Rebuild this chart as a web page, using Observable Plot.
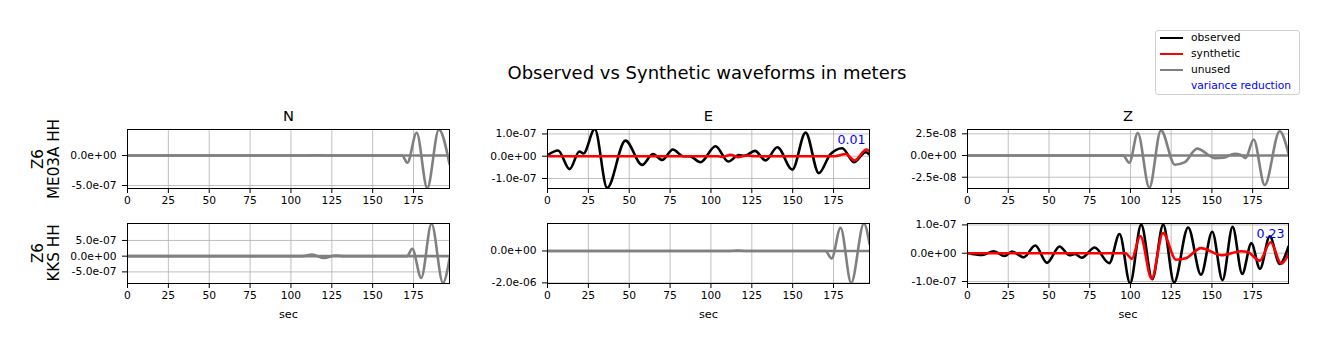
<!DOCTYPE html>
<html><head><meta charset="utf-8">
<script src="https://cdn.jsdelivr.net/npm/d3@7"></script>
<script src="https://cdn.jsdelivr.net/npm/@observablehq/plot@0.6"></script>
<style>
body{margin:0;background:#fff;}
#root{position:relative;width:1329px;height:351px;font-family:"DejaVu Sans",sans-serif;overflow:hidden;background:#fff;}
.abs{position:absolute;white-space:pre;}
</style></head><body><div id="root"></div>
<script>
// ---------- data ----------
const chartTitle = "Observed vs Synthetic waveforms in meters";
const componentNames = ["N", "E", "Z"];
const stationLabels = ["Z6\nME03A HH", "Z6\nKKS HH"];
const xLabel = "sec";
const xTicks = [0, 25, 50, 75, 100, 125, 150, 175];
const xDomain = [0, 197];

// ME03A
const obs_ME03A_N = [[0,0],[110,0],[115.5,0.05e-7],[121,0],[168,0],[171.2,-1.2e-7],[176.9,3.8e-7],[183.4,-5.45e-7],[190.5,4.33e-7],[197,-1.4e-7]];
const syn_ME03A_N = [[0,0],[197,0]];
const obs_ME03A_E = [[0,0.05e-7],[6.5,0.26e-7],[13.5,-0.58e-7],[19.5,0.21e-7],[22,0.12e-7],[28.9,1.22e-7],[36.5,-1.42e-7],[47.7,0.7e-7],[57.9,-0.39e-7],[64.5,0.1e-7],[70.2,-0.17e-7],[76.7,0.3e-7],[83,0],[87,0],[93.6,-0.27e-7],[102.8,0.45e-7],[110.6,-0.24e-7],[117,0.05e-7],[120.5,0.02e-7],[126.9,0.24e-7],[133.4,-0.19e-7],[140.6,0.4e-7],[149.8,-0.6e-7],[157.9,1.06e-7],[166,-0.76e-7],[173,0.08e-7],[180.3,0.36e-7],[187.5,-0.27e-7],[194.6,0.18e-7],[197,0.08e-7]];
const syn_ME03A_E = [[0,0],[104,0],[107,-0.03e-7],[112,0.06e-7],[117,-0.04e-7],[122,0.03e-7],[127,0],[176,0],[182.5,0.1e-7],[187.8,-0.19e-7],[195.2,0.3e-7],[197,0.22e-7]];
const obs_ME03A_Z = [[0,0],[95.5,0],[99.3,-0.84e-8],[104.5,2.6e-8],[111.6,-3.7e-8],[118.7,2.9e-8],[127.3,-1.07e-8],[133.4,-0.77e-8],[140.9,0.8e-8],[151.8,-0.3e-8],[157,-0.25e-8],[164,0.2e-8],[167.5,0.1e-8],[170.6,-0.3e-8],[175.6,1.85e-8],[182.4,-3.4e-8],[191.6,2.8e-8],[197,0.2e-8]];
const syn_ME03A_Z = [[0,0],[197,0]];

// KKS
const obs_KKS_N = [[0,0],[107,0],[113,0.5e-7],[120.2,-0.6e-7],[127.3,0.2e-7],[133,0],[171,0],[174.2,2.35e-7],[179.7,-6.9e-7],[186,1.03e-6],[193,-8.5e-7],[197,-0.8e-7]];
const syn_KKS_N = [[0,0],[197,0]];
const obs_KKS_E = [[0,0],[112,0],[116.5,0.02e-6],[121,0],[170,0],[173.8,-0.47e-6],[179.3,1.45e-6],[185.8,-2.0e-6],[193.6,1.72e-6],[197,0.44e-6]];
const syn_KKS_E = [[0,0],[197,0]];
const obs_KKS_Z = [[0,0.01e-7],[9,-0.06e-7],[16.1,0.07e-7],[22.8,-0.1e-7],[27.3,0.06e-7],[34.5,-0.14e-7],[41.6,0.27e-7],[48.8,-0.34e-7],[56.5,0.24e-7],[62.5,-0.07e-7],[66,-0.03e-7],[70.2,-0.16e-7],[78,0.2e-7],[87,-0.35e-7],[93.3,0.68e-7],[99.8,-1.06e-7],[106.6,1.01e-7],[113.4,-0.92e-7],[120.1,1.01e-7],[126.8,-1.03e-7],[135.4,0.91e-7],[143.3,-0.76e-7],[150.2,0.76e-7],[156.5,-0.95e-7],[162.7,0.93e-7],[168.6,-0.73e-7],[174.2,0.35e-7],[179.5,-0.55e-7],[185.5,0.6e-7],[191.6,-0.38e-7],[197,0.24e-7]];
const syn_KKS_Z = [[0,0],[97,0],[100.8,-0.2e-7],[106.1,0.61e-7],[113,-0.9e-7],[120,0.71e-7],[128,-0.23e-7],[134,-0.18e-7],[143.3,0.18e-7],[155.9,-0.07e-7],[168.1,0.07e-7],[172,0.04e-7],[179.3,-0.26e-7],[186,0.39e-7],[192.6,-0.37e-7],[197,-0.03e-7]];

// y ranges and ticks
const yDom_ME03A_N = [-5.5e-7, 4.35e-7], yTicks_ME03A_N = [-5e-7, 0];
const yDom_ME03A_E = [-1.45e-7, 1.2e-7], yTicks_ME03A_E = [-1e-7, 0, 1e-7];
const yDom_ME03A_Z = [-3.8e-8, 3.0e-8], yTicks_ME03A_Z = [-2.5e-8, 0, 2.5e-8];
const yDom_KKS_N = [-8.7e-7, 1.04e-6], yTicks_KKS_N = [-5e-7, 0, 5e-7];
const yDom_KKS_E = [-2.04e-6, 1.72e-6], yTicks_KKS_E = [-2e-6, 0];
const yDom_KKS_Z = [-1.07e-7, 1.05e-7], yTicks_KKS_Z = [-1e-7, 0, 1e-7];

// variance reduction (null = component unused)
const vr_ME03A = [null, "0.01", null];
const vr_KKS = [null, null, "0.23"];

const legendItems = [
  {label: "observed", color: "black", line: true},
  {label: "synthetic", color: "red", line: true},
  {label: "unused", color: "gray", line: true},
  {label: "variance reduction", color: "blue", line: false}
];

// ---------- layout ----------
const colLeft = [127, 547, 967], colWidth = [322, 322, 321];
const rowTop = [129, 223], rowHeight = [59, 60];
const mL = 80, mR = 10, mT = 30, mB = 45;

const root = document.getElementById("root");

function fmt(d) {
  const [m, e] = d.toExponential(1).split("e");
  const n = +e;
  return m + "e" + (n < 0 ? "-" : "+") + String(Math.abs(n)).padStart(2, "0");
}

const panels = [
  {row:0, col:0, obs:obs_ME03A_N, syn:syn_ME03A_N, dom:yDom_ME03A_N, ticks:yTicks_ME03A_N, vr:vr_ME03A[0]},
  {row:0, col:1, obs:obs_ME03A_E, syn:syn_ME03A_E, dom:yDom_ME03A_E, ticks:yTicks_ME03A_E, vr:vr_ME03A[1]},
  {row:0, col:2, obs:obs_ME03A_Z, syn:syn_ME03A_Z, dom:yDom_ME03A_Z, ticks:yTicks_ME03A_Z, vr:vr_ME03A[2]},
  {row:1, col:0, obs:obs_KKS_N, syn:syn_KKS_N, dom:yDom_KKS_N, ticks:yTicks_KKS_N, vr:vr_KKS[0]},
  {row:1, col:1, obs:obs_KKS_E, syn:syn_KKS_E, dom:yDom_KKS_E, ticks:yTicks_KKS_E, vr:vr_KKS[1]},
  {row:1, col:2, obs:obs_KKS_Z, syn:syn_KKS_Z, dom:yDom_KKS_Z, ticks:yTicks_KKS_Z, vr:vr_KKS[2]}
];

const gridStyle = {stroke: "#b0b0b0", strokeOpacity: 1, strokeWidth: 0.8};

for (const p of panels) {
  const used = p.vr !== null;
  const w = colWidth[p.col], h = rowHeight[p.row];
  const marks = [
    Plot.gridX(xTicks, gridStyle),
    Plot.gridY(p.ticks, gridStyle),
    Plot.axisX(xTicks, {tickSize: 5, tickPadding: 3, label: null, stroke: "black"}),
    Plot.axisY(p.ticks, {tickSize: 5, tickPadding: 6, tickFormat: fmt, label: null, stroke: "black"}),
    Plot.line(p.obs, {x: d => d[0], y: d => d[1], stroke: used ? "black" : "gray", strokeWidth: 2.6, curve: "monotone-x", clip: true}),
    Plot.line(p.syn, {x: d => d[0], y: d => d[1], stroke: used ? "red" : "gray", strokeWidth: 2.6, curve: "monotone-x", clip: true}),
    Plot.frame({stroke: "black", strokeWidth: 1})
  ];
  if (p.row === 0) marks.push(Plot.text([componentNames[p.col]], {frameAnchor: "top", dy: -13, fontSize: 14.7, lineAnchor: "middle", fill: "black"}));
  if (p.row === 1) marks.push(Plot.text([xLabel], {frameAnchor: "bottom", dy: 31, fontSize: 11.3, lineAnchor: "middle", fill: "black"}));
  if (used) marks.push(Plot.text([p.vr], {frameAnchor: "top-right", dx: -4, dy: 10, fontSize: 12.6, textAnchor: "end", lineAnchor: "middle", fill: "blue"}));
  const svg = Plot.plot({
    width: w + mL + mR, height: h + mT + mB,
    marginLeft: mL, marginRight: mR, marginTop: mT, marginBottom: mB,
    style: {background: "transparent", fontFamily: "DejaVu Sans", fontSize: "10.7px", color: "black", overflow: "visible"},
    x: {domain: xDomain},
    y: {domain: p.dom},
    marks
  });
  svg.style.position = "absolute";
  svg.style.left = (colLeft[p.col] - mL) + "px";
  svg.style.top = (rowTop[p.row] - mT) + "px";
  root.appendChild(svg);
}

// suptitle
const t = document.createElement("div");
t.className = "abs";
t.textContent = chartTitle;
t.style.cssText += "left:707px;top:72px;transform:translate(-50%,-50%);font-size:18px;color:black;";
root.appendChild(t);

// row labels
stationLabels.forEach((s, i) => {
  const d = document.createElement("div");
  d.className = "abs";
  d.textContent = s;
  const cy = rowTop[i] + rowHeight[i] / 2;
  d.style.cssText += `left:46px;top:${cy}px;transform:translate(-50%,-50%) rotate(-90deg);font-size:15.2px;line-height:16px;text-align:center;color:black;`;
  root.appendChild(d);
});

// legend
const box = document.createElement("div");
box.className = "abs";
box.style.cssText += "left:1155px;top:30px;width:145px;height:65px;border:1px solid #d0d0d0;border-radius:3px;box-sizing:border-box;background:white;";
root.appendChild(box);
const legendY = [38.3, 54, 69.5, 85.5];
legendItems.forEach((it, i) => {
  if (it.line) {
    const ln = document.createElement("div");
    ln.className = "abs";
    ln.style.cssText += `left:1160px;top:${legendY[i] - 1}px;width:23px;height:2px;background:${it.color};`;
    root.appendChild(ln);
  }
  const tx = document.createElement("div");
  tx.className = "abs";
  tx.textContent = it.label;
  tx.style.cssText += `left:1191px;top:${legendY[i]}px;transform:translateY(-50%);font-size:10.7px;line-height:12px;color:${it.line ? "black" : "blue"};`;
  root.appendChild(tx);
});
</script></body></html>
